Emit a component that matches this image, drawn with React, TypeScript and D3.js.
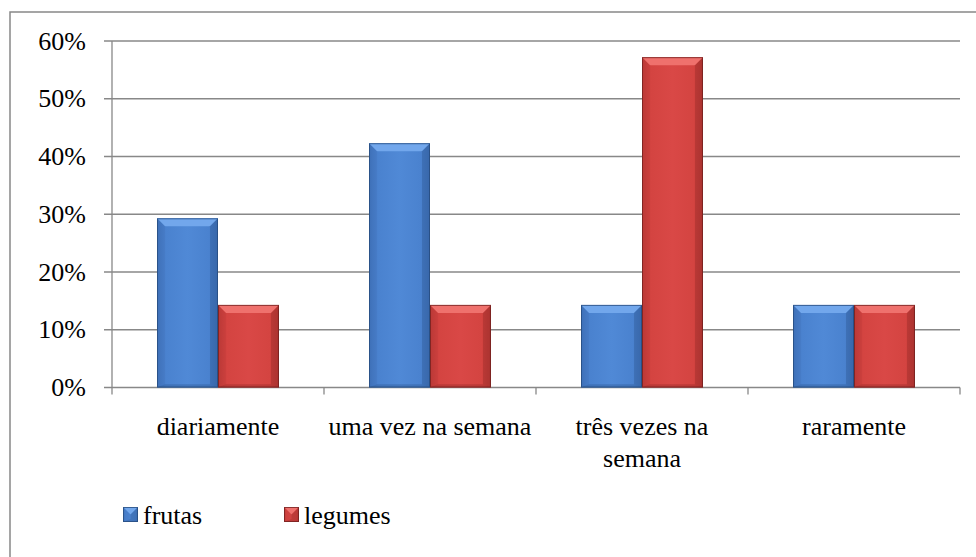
import React, { useEffect, useRef } from 'react';
import * as d3 from 'd3';

const categories = ['diariamente', 'uma vez na semana', 'três vezes na semana', 'raramente'];
const seriesNames = ['frutas', 'legumes'];
const frutas = [29.3, 42.3, 14.3, 14.3];
const legumes = [14.3, 14.3, 57.2, 14.3];
const yTicks = [0, 10, 20, 30, 40, 50, 60];

const W = 976;
const H = 557;
const FONT = 'Liberation Serif';
const FS = 26;
const GRID = '#888888';

const palette: Record<string, { body: string; light: string; top: string; side: string; edge: string; line: string }> = {
  frutas: { body: '#4a82cf', light: '#5089d6', top: '#72a7ec', side: '#3f71b8', edge: '#2f5a96', line: '#24487a' },
  legumes: { body: '#d44441', light: '#d94846', top: '#ef716d', side: '#ba3936', edge: '#962b29', line: '#6e1f1d' },
};

function BevelBar({ x, y, w, h, s }: { x: number; y: number; w: number; h: number; s: string }) {
  const c = palette[s];
  const b = Math.min(8, h / 2, w / 2);
  const gid = `g-${s}`;
  return (
    <g>
      <rect x={x} y={y} width={w} height={h} fill={`url(#${gid})`} />
      <polygon points={`${x},${y} ${x + w},${y} ${x + w - b},${y + b} ${x + b},${y + b}`} fill={c.top} />
      <polygon points={`${x},${y} ${x + b},${y + b} ${x + b},${y + h - b * 0.4} ${x},${y + h}`} fill={c.side} opacity={0.25} />
      <polygon points={`${x + w},${y} ${x + w - b},${y + b} ${x + w - b},${y + h - b * 0.4} ${x + w},${y + h}`} fill={c.edge} opacity={0.4} />
      <polygon points={`${x},${y + h} ${x + w},${y + h} ${x + w - b},${y + h - b * 0.4} ${x + b},${y + h - b * 0.4}`} fill={c.edge} opacity={0.4} />
      <rect x={x + 0.5} y={y + 0.5} width={w - 1} height={h - 1} fill="none" stroke={c.line} strokeWidth={1} opacity={0.75} />
    </g>
  );
}

export default function App() {
  const labelsRef = useRef<SVGGElement>(null);
  const left = 112;
  const right = 960;
  const x = d3.scaleBand<string>().domain(categories).range([left, right]).paddingInner(0).paddingOuter(0);
  const step = x.bandwidth();
  const x1 = d3.scaleBand<string>().domain(seriesNames).range([0, step]).paddingInner(0).paddingOuter(0.738);
  const y = d3.scaleLinear().domain([0, 60]).range([387.5, 41]);
  const values: Record<string, number[]> = { frutas, legumes };

  useEffect(() => {
    if (!labelsRef.current) return;
    const g = d3.select(labelsRef.current);
    g.selectAll('*').remove();
    categories.forEach((c) => {
      const cx = (x(c) as number) + step / 2;
      const text = g
        .append('text')
        .attr('x', cx)
        .attr('y', 435)
        .attr('text-anchor', 'middle')
        .attr('font-size', FS)
        .style('font-family', FONT)
        .attr('fill', '#000');
      const words = c.split(' ');
      let line: string[] = [];
      let tspan = text.append('tspan').attr('x', cx).attr('dy', 0);
      for (const w of words) {
        line.push(w);
        tspan.text(line.join(' '));
        const node = tspan.node() as SVGTSpanElement;
        if (node.getComputedTextLength() > 210 && line.length > 1) {
          line.pop();
          tspan.text(line.join(' '));
          line = [w];
          tspan = text.append('tspan').attr('x', cx).attr('dy', 32).text(w);
        }
      }
    });
  }, []);

  return (
    <svg width={W} height={H} style={{ position: 'absolute', left: 0, top: 0, background: '#fff' }}>
      <defs>
        {seriesNames.map((s) => (
          <linearGradient key={s} id={`g-${s}`} x1="0" y1="0" x2="1" y2="0">
            <stop offset="0" stopColor={palette[s].side} />
            <stop offset="0.15" stopColor={palette[s].body} />
            <stop offset="0.5" stopColor={palette[s].light} />
            <stop offset="0.85" stopColor={palette[s].body} />
            <stop offset="1" stopColor={palette[s].side} />
          </linearGradient>
        ))}
      </defs>
      <rect x={10} y={12} width={W + 20} height={H + 20} fill="#fff" stroke={GRID} strokeWidth={1.5} />

      {yTicks.map((t) => (
        <g key={t}>
          <line x1={left - 8} x2={right} y1={y(t)} y2={y(t)} stroke={GRID} strokeWidth={1.3} />
          <text x={86} y={y(t) + 8.5} textAnchor="end" fontSize={FS} style={{ fontFamily: FONT }}>
            {`${t}%`}
          </text>
        </g>
      ))}
      <line x1={left} x2={left} y1={y(60)} y2={y(0)} stroke={GRID} strokeWidth={1.3} />
      {[...categories.map((c) => x(c) as number), right].map((tx, i) => (
        <line key={i} x1={tx} x2={tx} y1={y(0)} y2={y(0) + 7} stroke={GRID} strokeWidth={1.3} />
      ))}

      {categories.map((c, i) =>
        seriesNames.map((s) => {
          const v = values[s][i];
          const bx = (x(c) as number) + (x1(s) as number);
          return <BevelBar key={c + s} x={bx} y={y(v)} w={x1.bandwidth()} h={y(0) - y(v)} s={s} />;
        })
      )}

      <g ref={labelsRef} />

      {seriesNames.map((s, i) => {
        const lx = 123 + i * 161;
        return (
          <g key={s}>
            <BevelBar x={lx} y={507} w={15} h={15} s={s} />
            <text x={lx + 20} y={524} fontSize={FS} style={{ fontFamily: FONT }}>
              {s}
            </text>
          </g>
        );
      })}
    </svg>
  );
}
